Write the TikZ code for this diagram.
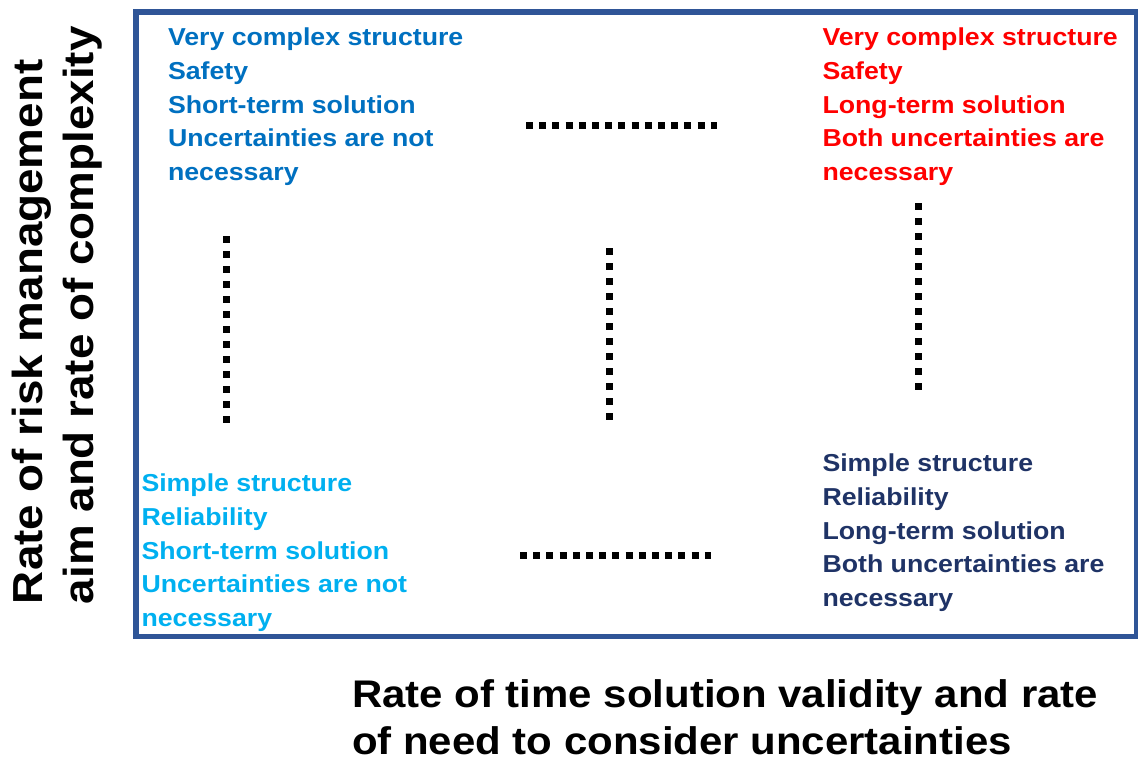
\documentclass[tikz,border=0pt]{standalone}
\usepackage{fontspec}
\setmainfont{Liberation Sans}
\newfontfamily\qfont{Liberation Sans}[FakeStretch=1.09]
\definecolor{framecol}{HTML}{2F5597}
\definecolor{tlcol}{HTML}{0070C0}
\definecolor{trcol}{HTML}{FF0000}
\definecolor{blcol}{HTML}{00B0F0}
\definecolor{brcol}{HTML}{1F3366}
\tikzset{
  qtext/.style={inner sep=0pt, outer sep=0pt, align=left, anchor=north west,
    font=\qfont\bfseries\fontsize{24.5}{33.6}\selectfont},
  axtext/.style={inner sep=0pt, outer sep=0pt, align=left, anchor=north west,
    font=\qfont\bfseries\fontsize{38.5}{47}\selectfont},
  yaxtext/.style={inner sep=0pt, outer sep=0pt, align=left, anchor=north west,
    font=\qfont\bfseries\fontsize{42}{51}\selectfont},
  hdots/.style={line width=7pt, dash pattern=on 7pt off 6.2pt, black},
  vdots/.style={line width=7pt, dash pattern=on 7pt off 8pt, black},
  frame/.style={draw=framecol, line width=5.5pt}
}
\begin{document}
\begin{tikzpicture}[x=1pt,y=-1pt]
\useasboundingbox (0,0) rectangle (1138,760);
\clip (0,0) rectangle (1138,760);
% frame
\draw[frame] (136,12) rectangle (1136.5,636.5);
% quadrant texts
\node[qtext, text=tlcol] (tl) at (168,28.2) {Very complex structure\\Safety\\Short-term solution\\Uncertainties are not\\necessary};
\node[qtext, text=trcol] (tr) at (822.5,28.2) {Very complex structure\\Safety\\Long-term solution\\Both uncertainties are\\necessary};
\node[qtext, text=blcol] (bl) at (141.5,474.2) {Simple structure\\Reliability\\Short-term solution\\Uncertainties are not\\necessary};
\node[qtext, text=brcol] (br) at (822.5,454.2) {Simple structure\\Reliability\\Long-term solution\\Both uncertainties are\\necessary};
% dotted lines
\coordinate (th1) at (526,125);
\coordinate (th2) at (717.2,125);
\coordinate (bh1) at (520,555);
\coordinate (bh2) at (711.3,555);
\coordinate (lv1) at (226.7,236);
\coordinate (lv2) at (226.7,423);
\coordinate (mv1) at (609,248);
\coordinate (mv2) at (609,420);
\coordinate (rv1) at (918.3,203);
\coordinate (rv2) at (918.3,390);
\draw[hdots] (th1) -- (th2);
\draw[hdots] (bh1) -- (bh2);
\draw[vdots] (lv1) -- (lv2);
\draw[vdots] (mv1) -- (mv2);
\draw[vdots] (rv1) -- (rv2);
% axis labels
\node[axtext] (xlab) at (352,680) {Rate of time solution validity and rate\\of need to consider uncertainties};
\node[yaxtext, rotate=90] (ylab) at (12,604) {Rate of risk management\\aim and rate of complexity};
\end{tikzpicture}
\end{document}
